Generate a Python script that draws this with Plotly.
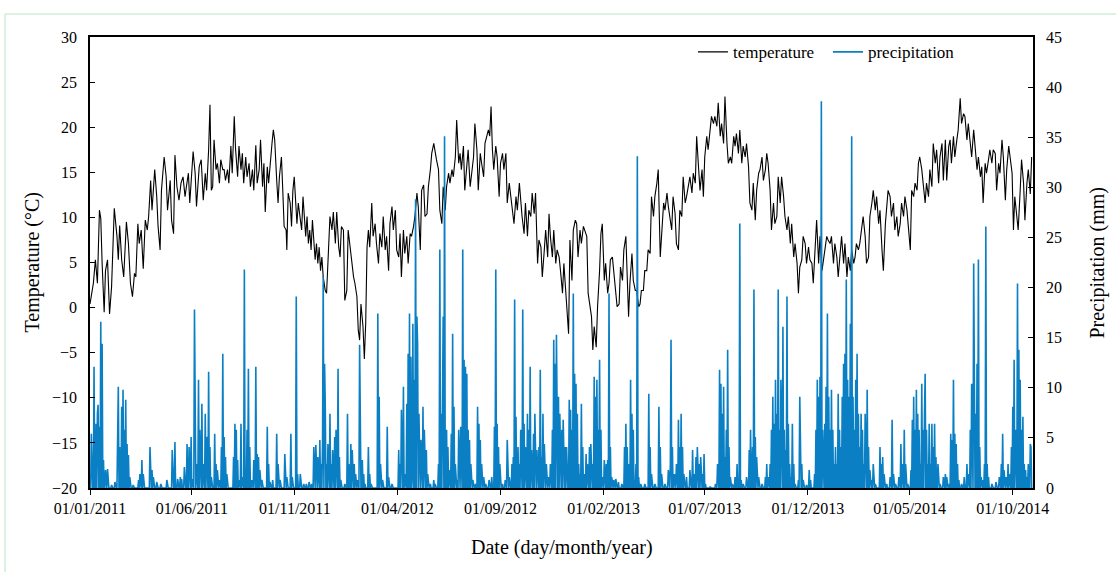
import pandas as pd
import plotly.graph_objects as go

# ---------------- data (day index = days since 01/01/2011) ----------------
START = "2011-01-01"
END = "2014-10-31"

# Daily mean temperature readings (day, °C)
temp_2011 = [(0,0.4),(5,2.7),(8,5.3),(11,2.7),(14,10.8),(16,9.9),(18,4.9),(21,-0.5),(23,4.1),(26,5.3),(29,-0.7),(32,2.3),(36,11.0),(40,7.9),(42,5.3),(44,9.1),(47,5.3),(50,3.4),(54,9.5),(57,7.1),(60,2.7),(63,1.2),(66,3.8),(68,3.4),(71,9.3),(73,7.1),(76,8.6),(79,4.3),(82,9.7),(85,8.6),(87,10.1),(90,14.1),(92,10.8),(94,12.7),(96,15.3),(99,12.3),(101,9.0),(104,6.4),(106,13.0),(110,16.7),(113,14.5),(115,10.8),(119,14.1),(121,9.7),(124,8.2),(126,16.9),(129,13.4),(132,11.9),(135,13.8),(138,14.5),(141,12.3),(143,13.4),(146,14.9),(148,11.6),(151,14.5),(153,17.3),(156,14.9),(158,11.2),(162,15.6),(165,16.4),(168,11.9),
             (171,14.9),(173,13.0),(176,17.5),(178,22.5),(180,13.0),(182,13.4),(184,18.6),(187,15.3),(189,16.0),(192,13.8),(194,16.4),(197,15.3),(199,15.3),(201,14.1),(204,15.3),(206,13.8),(209,17.9),(211,14.9),(214,21.2),(216,17.5),(219,14.5),(221,17.9),(224,15.3),(226,17.1),(228,13.8),(231,16.7),(233,14.5),(236,16.0),(238,13.4),(241,15.3),(243,13.0),(246,18.0),(248,13.8),(251,15.3),(253,18.6),(256,13.4),(258,16.0),(260,10.6),(263,15.6),(265,13.8),(268,17.1),(270,18.2),(272,19.7),(274,18.6),(277,14.1),(279,11.6),(281,14.5),(284,16.7),(286,13.0),(288,9.0),(291,8.6),(292,6.4),(294,12.7),(297,11.6),(299,9.0),(301,13.0),(303,14.5),(305,12.3),(307,9.3),(309,11.6),(312,10.1),(314,8.6),(316,12.3),(318,9.3),(320,7.9),(322,10.1),(324,7.1),(326,8.6),(328,6.4),(330,9.7),(332,7.9),(334,5.3),(336,7.1),(338,4.9),(340,6.7),(342,4.1),(344,5.6),(346,3.4),
             (349,1.9),(351,1.6),(354,6.7),(356,10.1),(359,8.6),(361,10.6),(364,7.1)]
temp_2012 = [(366,10.6),(369,6.7),(371,5.6),(373,9.0),(376,8.6),(378,0.8),(381,1.9),(383,8.6),(386,6.4),(388,4.9),(391,3.4),(393,2.7),(396,1.2),(398,-2.5),(400,-3.6),(402,0.4),(405,-2.1),(407,-5.7),(409,-1.8),(411,6.7),(413,8.6),(415,6.7),(418,11.6),(420,7.9),(423,9.3),(425,7.1),(428,4.9),(430,8.2),(433,6.7),(435,10.1),(438,6.4),(440,7.9),(443,4.1),(445,9.3),(448,11.2),(450,8.6),(453,10.8),(455,6.4),(458,5.6),(460,8.2),(462,3.4),(465,8.6),(467,6.0),(470,7.9),(472,4.9),(475,8.2),(477,7.9),(480,9.0),(482,10.1),(485,12.7),(487,11.2),(490,6.4),(492,13.0),(495,13.6),(497,10.1),(500,10.4),(502,13.4),(505,15.3),(507,17.1),(510,18.2),(512,17.1),(514,16.4),(517,15.3),(519,10.8),(522,9.3),(524,13.4),
             (527,10.8),(529,13.4),(532,14.9),(534,13.8),(537,15.3),(539,14.5),(542,16.7),(544,20.8),(547,16.0),(549,17.1),(551,15.3),(554,17.9),(556,13.0),(559,15.3),(561,17.5),(564,13.4),(566,14.5),(569,16.7),(571,20.4),(574,17.5),(576,13.0),(579,17.1),(581,16.0),(584,14.5),(586,18.2),(589,19.0),(591,19.7),(593,19.0),(595,22.3),(597,17.5),(599,15.3),(602,17.9),(604,16.7),(607,12.3),(609,16.0),(612,17.1),(614,15.3),(617,17.1),(619,11.6),(622,13.8),(624,12.3),(627,10.8),(629,9.3),(632,12.3),(634,10.8),(637,13.8),(639,11.6),(641,10.1),(644,8.2),(646,11.6),(649,7.9),(651,10.8),(654,10.1),(656,12.7),(659,10.4),(661,12.7),(664,4.9),(666,7.5),(669,6.7),(671,3.4),(674,6.4),(676,8.6),(679,5.6),(681,10.4),(683,7.9),(686,5.6),(688,8.6),(691,4.9),(693,6.4),(696,5.6),(698,4.1),(701,1.6),(703,4.9),
             (705,2.7),(707,-0.7),(710,-2.9),(712,7.5),(715,3.0),(717,8.6),(720,9.7),(722,9.3),(724,5.6),(727,8.6),(729,7.1)]
temp_2013 = [(732,9.0),(734,8.6),(737,7.9),(739,1.6),(742,-0.3),(744,-1.0),(746,-4.7),(748,-2.1),(751,-4.4),(753,0.1),(756,4.1),(758,8.2),(760,9.3),(763,3.0),(765,4.9),(768,1.6),(770,2.7),(772,5.3),(775,5.6),(777,3.8),(780,1.9),(782,0.1),(785,0.4),(787,4.5),(790,3.0),(792,6.4),(795,7.9),(797,1.9),(799,-1.0),(801,2.7),(804,6.0),(806,3.0),(809,1.9),(811,1.9),(814,0.1),(816,0.4),(818,1.9),(821,1.9),(823,4.1),(826,4.1),(828,6.4),(831,6.0),(833,12.3),(836,10.1),(838,12.3),(841,13.8),(843,15.3),(846,5.6),(848,8.6),(851,11.6),(853,10.8),(856,12.7),(858,11.2),(861,9.7),(863,8.6),(865,12.3),(868,10.4),(870,7.1),(873,6.4),(875,10.8),(878,10.1),(880,14.5),
             (883,11.6),(885,12.3),(888,13.4),(890,14.5),(893,12.7),(895,14.9),(898,13.8),(900,19.0),(903,15.3),(905,13.0),(908,15.3),(910,12.3),(912,16.7),(915,19.0),(917,17.5),(920,19.7),(922,21.2),(925,20.4),(927,21.2),(930,20.1),(932,22.7),(935,19.0),(937,20.4),(940,18.2),(942,23.4),(945,18.2),(947,16.0),(950,16.7),(952,16.0),(955,19.0),(957,17.9),(959,19.3),(962,17.1),(964,19.7),(967,16.0),(969,17.9),(972,16.7),(974,18.2),(977,15.6),(979,11.6),(982,10.8),(984,13.8),(987,9.7),(989,13.0),(992,14.9),(994,15.3),(997,16.7),(999,14.1),(1002,15.3),(1004,17.1),(1006,16.0),(1009,13.0),(1011,8.6),(1014,11.6),(1016,9.3),(1019,10.1),(1021,14.5),(1024,11.6),(1026,14.5),(1029,12.3),(1031,10.1),(1034,8.6),(1036,10.1),(1039,7.1),(1041,9.3),(1044,5.6),(1046,7.1),(1049,4.9),(1051,1.6),(1053,4.5),(1056,5.3),(1058,7.9),
             (1061,7.1),(1063,4.9),(1066,6.7),(1068,5.3),(1071,4.9),(1073,2.7),(1076,7.9),(1078,9.7),(1081,4.9),(1083,7.9),(1086,4.1),(1088,5.3),(1091,6.7),(1093,7.9),(1095,7.5)]
temp_2014 = [(1098,7.1),(1100,7.9),(1103,4.9),(1105,7.1),(1108,5.6),(1110,3.4),(1113,6.4),(1115,7.9),(1118,4.9),(1120,7.1),(1123,3.4),(1125,5.6),(1128,4.1),(1130,6.4),(1133,4.9),(1135,5.6),(1137,7.1),(1140,6.4),(1142,7.1),(1145,9.0),(1147,10.1),(1150,7.9),(1152,4.9),(1155,5.6),(1157,10.1),(1160,11.6),(1162,13.0),(1165,10.8),(1167,12.3),(1170,9.3),(1172,10.8),(1175,6.4),(1177,4.1),(1180,9.3),(1182,11.6),(1184,13.0),(1187,12.3),(1189,10.1),(1192,11.6),(1194,8.6),(1197,10.1),(1199,7.9),(1202,9.3),(1204,11.6),(1207,10.1),(1209,12.3),(1212,10.8),(1214,9.3),(1217,6.4),(1219,13.0),(1222,12.3),(1224,13.8),(1227,13.0),(1229,16.0),(1231,16.7),(1234,15.3),(1236,13.8),
             (1239,11.6),(1241,13.8),(1244,12.3),(1246,15.3),(1249,13.4),(1251,18.2),(1254,16.0),(1256,17.5),(1259,13.8),(1261,16.7),(1264,18.2),(1266,14.1),(1269,18.6),(1271,14.1),(1274,17.9),(1276,18.6),(1278,16.0),(1281,19.0),(1283,16.7),(1286,18.6),(1288,19.7),(1291,23.2),(1293,20.4),(1296,21.5),(1298,21.2),(1301,18.6),(1303,20.4),(1306,18.2),(1308,16.7),(1311,19.7),(1313,17.9),(1316,15.3),(1318,16.7),(1321,14.5),(1323,15.6),(1325,11.6),(1328,16.0),(1330,14.9),(1333,16.4),(1335,17.5),(1338,16.0),(1340,17.5),(1343,17.1),(1345,13.0),(1348,16.0),(1350,14.9),(1353,18.6),(1355,16.7),(1358,11.9),(1360,15.3),(1363,17.9),(1365,16.4),(1368,14.9),(1370,8.6),(1372,12.3),(1375,10.1),(1377,8.6),(1380,13.0),(1382,16.4),(1385,13.8),(1387,9.7),(1390,13.8),(1392,15.3),(1395,12.6),(1397,16.7)]

# Daily precipitation on rainy days (day, mm); all other days are 0 mm
rain_2011 = [(2,5.4),(6,12.1),(9,6.4),(11,7.4),(12,8.3),(14,6.1),(16,16.6),(18,14.4),(20,2.8),(23,1.8),(26,1.9),(32,0.3),(37,0.6),(41,7.8),(42,10.1),(44,4.1),(47,8.1),(49,9.8),(51,5.8),(53,8.8),(55,4.4),(57,3.3),(59,1.1),(64,0.3),(72,0.8),(74,1.4),(77,2.8),(79,1.4),(89,4.1),(92,1.8),(94,1.1),(99,0.6),(105,0.4),(114,0.8),(122,3.8),(126,4.6),(130,0.9),(134,1.1),(136,0.9),(140,2.1),(144,4.4),(147,4.1),(150,5.1),(152,0.9),(155,17.8),(158,2.4),(161,10.8),(163,5.8),(166,8.4),(168,2.4),
             (171,7.4),(173,5.1),(176,11.6),(178,4.1),(180,1.1),(185,5.4),(187,2.4),(189,1.8),(192,0.8),(195,4.1),(197,13.4),(199,5.1),(201,3.1),(203,1.4),(213,3.1),(215,6.4),(217,5.8),(219,2.8),(221,0.8),(224,6.4),(226,1.1),(229,21.8),(231,0.8),(233,5.8),(235,11.9),(237,4.1),(240,0.8),(243,2.8),(246,12.1),(248,3.4),(250,3.1),(252,1.8),(255,0.8),(263,6.1),(265,2.4),(267,0.6),(271,0.8),(277,5.4),(279,2.4),(282,0.8),(289,3.4),(292,1.1),(298,5.4),(300,1.1),(306,19.1),(308,1.4),(312,1.4),(317,0.4),(321,0.4),(325,0.6),(329,0.4),(332,4.1),(335,4.3),(338,3.1),(341,4.8),(343,2.4),(345,4.4),(346,21.1),(348,12.4),
             (349,8.4),(351,2.4),(353,4.4),(356,7.4),(358,2.4),(360,3.8),(363,5.1)]
rain_2012 = [(365,5.8),(368,11.9),(370,3.1),(372,0.8),(378,0.4),(382,7.4),(384,2.4),(387,4.4),(389,3.8),(392,2.4),(394,1.4),(397,0.8),(400,14.3),(401,2.4),(404,2.8),(406,1.4),(408,0.4),(413,4.1),(415,1.4),(417,0.4),(427,17.4),(429,9.1),(431,2.4),(434,0.8),(441,6.1),(443,1.1),(448,0.4),(458,3.8),(460,2.4),(462,7.8),(465,10.1),(467,1.4),(470,8.4),(472,13.4),(474,17.4),(476,13.1),(478,1.4),(479,16.4),(481,10.8),(483,28.8),(485,17.1),(486,14.4),(488,7.4),(491,4.8),(494,8.1),(496,5.8),(499,3.8),(501,1.4),(505,0.4),(510,0.8),(512,0.4),(517,2.4),(519,23.8),(521,7.4),(523,9.1),(524,17.1),(526,35.1),
             (529,5.8),(531,4.1),(533,1.8),(536,5.4),(538,15.4),(540,8.1),(542,2.4),(545,0.8),(547,5.8),(550,6.1),(553,23.8),(555,12.8),(557,12.1),(559,11.4),(561,5.8),(563,4.8),(565,2.4),(568,0.8),(572,0.4),(575,8.1),(577,6.4),(579,4.8),(581,2.4),(584,1.1),(587,0.4),(592,0.8),(596,1.1),(600,6.1),(602,21.8),(604,6.4),(606,4.1),(608,2.4),(612,0.4),(616,0.8),(619,4.8),(622,1.1),(626,2.4),(628,3.1),(630,18.8),(632,7.1),(635,4.1),(637,2.4),(639,5.8),(642,17.8),(644,6.4),(646,4.1),(649,7.4),(651,5.8),(653,12.1),(655,3.8),(658,5.4),(660,7.4),(663,3.8),(666,4.1),(668,11.8),(670,3.1),(672,7.4),(674,4.4),(677,2.4),(680,1.1),(683,2.4),(686,5.8),(688,14.8),(690,12.4),(692,15.3),(695,9.1),(697,7.4),(700,5.8),(702,6.8),(705,4.1),
             (707,4.1),(711,8.8),(713,7.8),(715,5.8),(717,19.4),(719,11.4),(721,10.4),(723,7.4),(725,2.4),(727,1.4),(729,8.4)]
rain_2013 = [(731,4.1),(733,1.4),(736,3.4),(738,2.4),(741,4.1),(743,4.4),(746,2.4),(748,11.1),(750,9.1),(752,10.8),(754,5.8),(756,12.8),(758,5.8),(760,1.1),(763,2.8),(766,2.4),(768,2.8),(770,19.4),(772,4.1),(774,1.1),(777,0.8),(780,0.9),(784,0.6),(789,0.4),(793,4.1),(795,6.4),(797,4.1),(799,2.4),(802,10.8),(804,7.4),(806,5.8),(808,0.8),(810,2.4),(812,33.1),(814,1.1),(817,0.4),(823,0.4),(829,9.4),(831,4.1),(833,1.4),(838,0.4),(844,8.1),(846,4.1),(848,1.4),(853,0.4),(858,1.8),(861,2.4),(862,14.8),(864,4.1),(867,1.4),(870,2.4),(873,6.8),(875,4.1),(877,7.4),(879,4.1),(881,1.4),
             (885,1.1),(890,1.8),(894,3.8),(896,1.4),(899,3.1),(901,4.1),(904,2.4),(906,3.1),(909,1.4),(911,3.4),(913,0.4),(920,0.1),(928,0.4),(931,2.4),(934,11.8),(936,10.4),(938,7.4),(940,10.1),(942,3.1),(944,5.8),(946,13.8),(948,4.1),(950,1.1),(953,0.4),(957,1.1),(960,2.4),(962,0.8),(964,26.4),(966,0.8),(969,0.4),(974,1.1),(978,3.8),(980,5.8),(983,4.1),(985,19.8),(987,5.1),(989,3.1),(992,1.1),(997,0.4),(1002,1.1),(1004,2.4),(1006,1.1),(1009,2.4),(1011,5.8),(1013,9.1),(1015,6.4),(1017,10.8),(1019,7.4),(1021,19.8),(1023,5.8),(1025,10.8),(1028,16.1),(1030,5.8),(1032,3.8),(1034,19.1),(1036,6.4),(1038,2.4),(1040,1.1),(1042,6.4),(1044,2.4),(1046,0.4),(1051,0.8),(1053,9.1),(1056,2.4),(1058,0.8),
             (1063,0.3),(1067,1.8),(1069,0.8),(1075,1.4),(1077,5.8),(1079,10.8),(1081,9.1),(1083,11.1),(1085,38.6),(1087,5.8),(1088,2.4),(1090,6.4),(1092,10.1),(1094,17.4)]
rain_2014 = [(1096,9.1),(1098,5.8),(1100,9.8),(1102,5.8),(1104,2.4),(1106,4.1),(1108,2.4),(1110,9.4),(1112,5.8),(1114,4.1),(1116,9.1),(1118,12.4),(1120,13.4),(1122,20.8),(1124,10.8),(1126,9.1),(1128,16.4),(1130,35.1),(1132,9.1),(1134,5.8),(1136,10.8),(1138,13.4),(1140,7.4),(1142,4.1),(1144,7.4),(1146,5.8),(1148,2.4),(1150,7.4),(1153,9.8),(1155,4.1),(1157,1.8),(1160,0.8),(1162,2.4),(1165,0.4),(1172,4.1),(1174,2.4),(1176,3.1),(1178,1.4),(1182,0.4),(1187,1.1),(1190,6.8),(1192,1.4),(1195,0.4),(1200,1.1),(1203,4.4),(1205,2.4),(1208,5.8),(1210,2.4),(1213,0.4),(1218,1.8),(1220,6.8),(1222,9.1),(1224,5.8),(1226,9.8),(1228,7.4),(1230,5.8),(1232,2.4),(1234,10.4),(1236,5.8),(1238,7.4),
             (1239,11.4),(1241,5.8),(1243,2.4),(1245,6.4),(1247,2.4),(1249,6.4),(1251,4.1),(1253,6.4),(1255,3.1),(1258,2.4),(1261,0.4),(1266,1.1),(1269,1.4),(1271,1.1),(1275,0.4),(1277,5.4),(1279,4.8),(1281,10.8),(1283,5.4),(1285,4.4),(1287,2.4),(1289,0.8),(1293,0.4),(1297,1.1),(1301,2.4),(1303,1.4),(1306,5.8),(1308,10.4),(1311,22.4),(1312,9.1),(1314,7.4),(1316,12.4),(1318,22.8),(1320,4.1),(1322,1.1),(1325,0.8),(1327,2.4),(1329,26.1),(1331,2.4),(1333,1.1),(1338,0.4),(1344,0.6),(1349,1.1),(1352,2.4),(1354,5.4),(1356,1.8),(1359,1.1),(1362,2.4),(1364,1.4),(1367,4.1),(1369,8.1),(1371,12.8),(1373,5.8),(1374,4.1),(1376,20.4),(1378,13.8),(1380,10.8),(1382,5.8),(1384,7.1),(1386,2.4),(1388,1.8),(1390,1.1),(1392,2.4),(1395,4.4),(1396,4.1)]

tick_dates = ["2011-01-01","2011-06-01","2011-11-01","2012-04-01","2012-09-01","2013-02-01",
              "2013-07-01","2013-12-01","2014-05-01","2014-10-01"]
tick_labels = ["01/01/2011","01/06/2011","01/11/2011","01/04/2012","01/09/2012","01/02/2013",
               "01/07/2013","01/12/2013","01/05/2014","01/10/2014"]

# ---------------- build series ----------------
start = pd.Timestamp(START)
temp_pts = temp_2011 + temp_2012 + temp_2013 + temp_2014
t_dates = [start + pd.Timedelta(days=d) for d, _ in temp_pts]
t_vals = [v for _, v in temp_pts]

n_days = (pd.Timestamp(END) - start).days
rain = {}
for d, v in rain_2011 + rain_2012 + rain_2013 + rain_2014:
    rain[d] = max(v, rain.get(d, 0.0))
p_dates = [start + pd.Timedelta(days=d) for d in range(n_days)]
p_vals = [rain.get(d, 0.0) for d in range(n_days)]

FONT = "Liberation Serif"

fig = go.Figure()
fig.add_trace(go.Scatter(x=t_dates, y=t_vals, mode="lines", name="temperature",
                         line=dict(color="#000000", width=1.1), yaxis="y"))
fig.add_trace(go.Scatter(x=p_dates, y=p_vals, mode="lines", name="precipitation",
                         line=dict(color="#0a7fc4", width=1.6), yaxis="y2"))

fig.update_layout(
    width=1116, height=572,
    margin=dict(l=90, r=83, t=37, b=84),
    paper_bgcolor="white", plot_bgcolor="white",
    font=dict(family=FONT, size=16, color="black"),
    showlegend=True,
    legend=dict(orientation="h", x=0.6394, y=1.006, xanchor="left", yanchor="top",
                bgcolor="rgba(0,0,0,0)", font=dict(family=FONT, size=17),
                itemwidth=30, tracegroupgap=0, entrywidth=90),
    xaxis=dict(type="date", range=[START, END], tickmode="array",
               tickvals=tick_dates, ticktext=tick_labels,
               ticks="outside", ticklen=5, tickcolor="black", tickwidth=1,
               showline=True, linecolor="black", linewidth=1.5, mirror=True,
               showgrid=False, zeroline=False,
               tickfont=dict(family=FONT, size=16)),
    yaxis=dict(range=[-20, 30], tick0=-20, dtick=5, ticks="inside", ticklen=5,
               tickcolor="black", showline=True, linecolor="black", linewidth=1.5,
               showgrid=False, zeroline=False, ticklabelstandoff=8,
               tickfont=dict(family=FONT, size=16)),
    yaxis2=dict(range=[0, 45], tick0=0, dtick=5, ticks="inside", ticklen=5,
                tickcolor="black", showline=True, linecolor="black", linewidth=1.5,
                showgrid=False, zeroline=False, overlaying="y", side="right",
                ticklabelstandoff=8, tickfont=dict(family=FONT, size=16)),
    annotations=[
        dict(text="Temperature (°C)", xref="paper", yref="paper", x=-0.0615, y=0.5,
             textangle=-90, showarrow=False, xanchor="center", yanchor="middle",
             font=dict(family=FONT, size=20)),
        dict(text="Precipitation (mm)", xref="paper", yref="paper", x=1.068, y=0.5,
             textangle=-90, showarrow=False, xanchor="center", yanchor="middle",
             font=dict(family=FONT, size=20)),
        dict(text="Date (day/month/year)", xref="paper", yref="paper", x=0.5, y=-0.133,
             showarrow=False, xanchor="center", yanchor="middle",
             font=dict(family=FONT, size=20)),
    ],
    shapes=[dict(type="rect", xref="paper", yref="paper",
                 x0=(5 - 90) / 943, x1=(1130 - 90) / 943,
                 y0=-0.3, y1=1 + (37 - 14) / 451,
                 line=dict(color="#b8e6c8", width=1), fillcolor="rgba(0,0,0,0)",
                 layer="below")],
)

fig.write_html("out.html")
